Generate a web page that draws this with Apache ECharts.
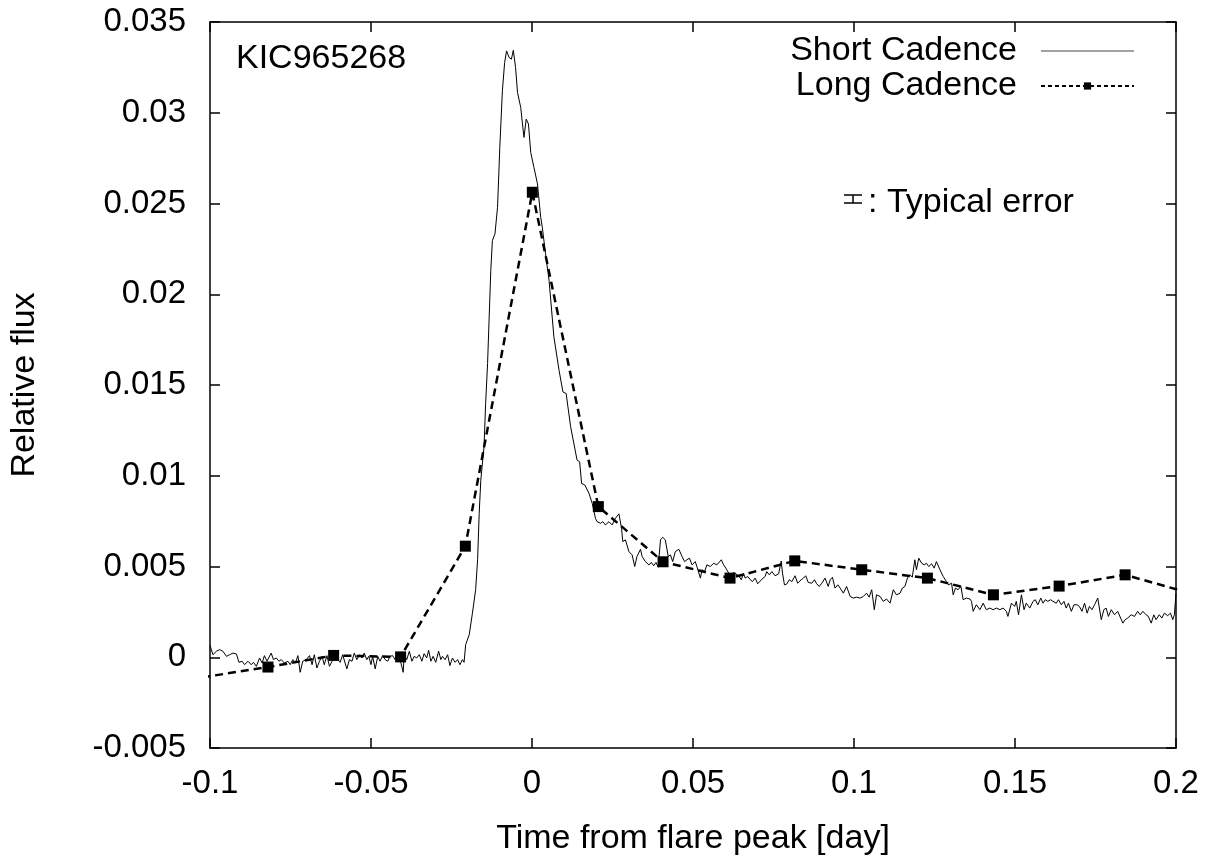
<!DOCTYPE html>
<html><head><meta charset="utf-8">
<script src="https://cdn.jsdelivr.net/npm/echarts@6/dist/echarts.min.js"></script>
<style>html,body{margin:0;padding:0;background:#fff}#c{width:1217px;height:861px}</style>
</head><body><div id="c"></div>
<script>
// Short cadence light curve: [time from flare peak (day), relative flux]
const shortCadence = [
[-0.1000,0.00066],[-0.0991,0.00014],[-0.0980,0.00033],[-0.0970,0.00042],[-0.0960,0.00033],[-0.0949,0.00005],
[-0.0939,0.00014],[-0.0929,0.00023],[-0.0918,0.00018],[-0.0910,-0.00028],[-0.0900,-0.00022],[-0.0893,-0.00041],
[-0.0882,-0.00022],[-0.0872,-0.00041],[-0.0865,-0.00028],[-0.0856,-0.00050],[-0.0846,-0.00004],[-0.0838,-0.00032],
[-0.0831,0.00009],[-0.0823,-0.00022],[-0.0810,0.00023],[-0.0803,-0.00013],[-0.0794,-0.00004],[-0.0786,-0.00022],
[-0.0779,-0.00013],[-0.0769,-0.00032],[-0.0758,-0.00022],[-0.0751,-0.00041],[-0.0743,-0.00013],[-0.0734,-0.00028],
[-0.0727,0.00009],[-0.0720,-0.00083],[-0.0712,-0.00022],[-0.0701,-0.00013],[-0.0691,0.00009],[-0.0683,-0.00041],
[-0.0676,0.00014],[-0.0668,-0.00059],[-0.0660,-0.00022],[-0.0652,0.00005],[-0.0645,-0.00041],[-0.0637,0.00009],
[-0.0629,-0.00050],[-0.0621,-0.00022],[-0.0614,0.00023],[-0.0603,-0.00013],[-0.0596,-0.00028],[-0.0588,0.00014],
[-0.0575,-0.00064],[-0.0567,-0.00013],[-0.0559,-0.00022],[-0.0552,0.00023],[-0.0544,-0.00013],[-0.0536,0.00014],
[-0.0528,-0.00004],[-0.0521,0.00023],[-0.0513,-0.00013],[-0.0507,0.00005],[-0.0500,-0.00041],[-0.0495,0.00005],
[-0.0487,-0.00064],[-0.0479,0.00005],[-0.0472,-0.00022],[-0.0464,0.00009],[-0.0456,-0.00013],[-0.0448,-0.00022],
[-0.0441,0.00005],[-0.0433,0.00009],[-0.0425,-0.00013],[-0.0417,0.00023],[-0.0407,-0.00032],[-0.0400,-0.00083],
[-0.0397,0.00014],[-0.0389,-0.00013],[-0.0381,0.00033],[-0.0373,-0.00022],[-0.0366,0.00005],[-0.0358,-0.00004],
[-0.0350,0.00014],[-0.0342,-0.00022],[-0.0335,0.00020],[-0.0327,-0.00004],[-0.0321,0.00038],[-0.0314,-0.00022],
[-0.0307,0.00005],[-0.0299,-0.00028],[-0.0290,0.00033],[-0.0283,-0.00013],[-0.0278,0.00005],[-0.0270,-0.00013],
[-0.0262,0.00014],[-0.0255,-0.00046],[-0.0247,-0.00004],[-0.0239,-0.00028],[-0.0231,-0.00013],[-0.0224,-0.00041],
[-0.0216,-0.00013],[-0.0211,-0.00028],[-0.0206,0.00069],[-0.0195,0.00124],[-0.0185,0.00243],[-0.0175,0.00372],
[-0.0169,0.00537],[-0.0164,0.00793],[-0.0159,0.00976],[-0.0149,0.01160],[-0.0144,0.01398],[-0.0138,0.01618],
[-0.0133,0.01875],[-0.0128,0.02131],[-0.0123,0.02296],[-0.0115,0.02333],[-0.0107,0.02479],[-0.0100,0.02809],
[-0.0092,0.03121],[-0.0085,0.03277],[-0.0079,0.03341],[-0.0071,0.03304],[-0.0064,0.03295],[-0.0058,0.03344],
[-0.0051,0.03249],[-0.0045,0.03112],[-0.0035,0.03029],[-0.0025,0.02864],[-0.0018,0.02965],[-0.0011,0.02938],
[-0.0004,0.02782],[0.0006,0.02699],[0.0017,0.02608],[0.0027,0.02424],[0.0032,0.02369],[0.0042,0.02223],
[0.0053,0.02076],[0.0068,0.01765],[0.0084,0.01581],[0.0096,0.01462],[0.0106,0.01453],[0.0120,0.01270],
[0.0140,0.01086],[0.0148,0.01077],[0.0154,0.00958],[0.0164,0.00949],[0.0177,0.00903],[0.0187,0.00848],
[0.0197,0.00766],[0.0202,0.00747],[0.0213,0.00738],[0.0220,0.00747],[0.0228,0.00729],[0.0239,0.00747],
[0.0249,0.00729],[0.0259,0.00766],[0.0270,0.00790],[0.0278,0.00711],[0.0282,0.00637],[0.0290,0.00647],
[0.0301,0.00582],[0.0311,0.00564],[0.0319,0.00500],[0.0326,0.00555],[0.0337,0.00595],[0.0342,0.00555],
[0.0352,0.00527],[0.0363,0.00509],[0.0371,0.00522],[0.0378,0.00504],[0.0385,0.00522],[0.0392,0.00496],
[0.0399,0.00647],[0.0406,0.00661],[0.0414,0.00647],[0.0423,0.00555],[0.0430,0.00564],[0.0437,0.00527],
[0.0445,0.00582],[0.0456,0.00595],[0.0466,0.00555],[0.0474,0.00527],[0.0481,0.00537],[0.0489,0.00546],
[0.0497,0.00509],[0.0507,0.00527],[0.0512,0.00500],[0.0523,0.00436],[0.0528,0.00482],[0.0536,0.00472],
[0.0543,0.00509],[0.0554,0.00500],[0.0564,0.00518],[0.0574,0.00509],[0.0588,0.00537],[0.0595,0.00509],
[0.0602,0.00491],[0.0611,0.00463],[0.0619,0.00436],[0.0626,0.00467],[0.0633,0.00460],[0.0642,0.00449],
[0.0650,0.00427],[0.0657,0.00463],[0.0662,0.00436],[0.0670,0.00445],[0.0678,0.00427],[0.0685,0.00417],
[0.0693,0.00436],[0.0701,0.00405],[0.0714,0.00430],[0.0724,0.00445],[0.0729,0.00472],[0.0737,0.00454],
[0.0745,0.00472],[0.0755,0.00449],[0.0766,0.00460],[0.0774,0.00530],[0.0778,0.00463],[0.0784,0.00399],
[0.0791,0.00403],[0.0799,0.00427],[0.0807,0.00417],[0.0817,0.00449],[0.0825,0.00408],[0.0836,0.00427],
[0.0843,0.00436],[0.0850,0.00449],[0.0858,0.00412],[0.0869,0.00408],[0.0877,0.00427],[0.0884,0.00405],
[0.0892,0.00390],[0.0900,0.00408],[0.0910,0.00436],[0.0920,0.00390],[0.0926,0.00427],[0.0933,0.00441],
[0.0941,0.00381],[0.0950,0.00399],[0.0957,0.00381],[0.0967,0.00353],[0.0977,0.00390],[0.0988,0.00335],
[0.0998,0.00326],[0.1008,0.00331],[0.1019,0.00326],[0.1029,0.00335],[0.1039,0.00353],[0.1047,0.00331],
[0.1055,0.00372],[0.1063,0.00262],[0.1070,0.00344],[0.1081,0.00335],[0.1091,0.00308],[0.1101,0.00321],
[0.1112,0.00298],[0.1122,0.00372],[0.1132,0.00344],[0.1143,0.00353],[0.1150,0.00381],[0.1158,0.00390],
[0.1166,0.00436],[0.1174,0.00454],[0.1181,0.00441],[0.1189,0.00537],[0.1194,0.00482],[0.1201,0.00546],
[0.1210,0.00518],[0.1218,0.00509],[0.1225,0.00518],[0.1232,0.00500],[0.1241,0.00515],[0.1249,0.00491],
[0.1256,0.00527],[0.1267,0.00482],[0.1277,0.00445],[0.1287,0.00417],[0.1294,0.00399],[0.1303,0.00408],
[0.1308,0.00344],[0.1315,0.00381],[0.1323,0.00372],[0.1332,0.00390],[0.1339,0.00317],[0.1349,0.00326],
[0.1360,0.00321],[0.1365,0.00308],[0.1370,0.00253],[0.1380,0.00289],[0.1391,0.00262],[0.1401,0.00298],
[0.1411,0.00262],[0.1422,0.00271],[0.1432,0.00262],[0.1442,0.00271],[0.1453,0.00262],[0.1463,0.00271],
[0.1473,0.00253],[0.1478,0.00225],[0.1489,0.00298],[0.1499,0.00280],[0.1504,0.00308],[0.1511,0.00234],
[0.1520,0.00344],[0.1528,0.00262],[0.1535,0.00298],[0.1546,0.00271],[0.1556,0.00308],[0.1563,0.00317],
[0.1571,0.00289],[0.1580,0.00326],[0.1587,0.00298],[0.1594,0.00317],[0.1602,0.00308],[0.1611,0.00317],
[0.1618,0.00308],[0.1628,0.00298],[0.1635,0.00317],[0.1644,0.00289],[0.1652,0.00308],[0.1659,0.00271],
[0.1666,0.00298],[0.1675,0.00253],[0.1683,0.00289],[0.1693,0.00289],[0.1700,0.00280],[0.1708,0.00253],
[0.1716,0.00298],[0.1724,0.00243],[0.1731,0.00280],[0.1739,0.00262],[0.1747,0.00289],[0.1757,0.00326],
[0.1768,0.00207],[0.1776,0.00262],[0.1783,0.00271],[0.1790,0.00225],[0.1799,0.00262],[0.1809,0.00234],
[0.1819,0.00253],[0.1828,0.00216],[0.1835,0.00188],[0.1842,0.00207],[0.1850,0.00216],[0.1861,0.00234],
[0.1871,0.00225],[0.1881,0.00253],[0.1889,0.00234],[0.1897,0.00253],[0.1907,0.00234],[0.1914,0.00225],
[0.1923,0.00188],[0.1931,0.00234],[0.1938,0.00207],[0.1948,0.00234],[0.1956,0.00216],[0.1964,0.00243],
[0.1974,0.00229],[0.1983,0.00243],[0.1990,0.00207],[0.1995,0.00234],[0.2000,0.00353]
];
// Long cadence points
const longCadenceTime = [-0.1024,-0.0820,-0.0616,-0.0408,-0.0207,0.0001,0.0206,0.0407,0.0615,0.0816,0.1024,0.1228,0.1433,0.1637,0.1842,0.2046];
const longCadenceFlux = [-0.00111,-0.00054,0.00010,0.00002,0.00612,0.02562,0.00830,0.00526,0.00436,0.00531,0.00482,0.00436,0.00344,0.00392,0.00454,0.00352];
const xTickLabels = ['-0.1','-0.05','0','0.05','0.1','0.15','0.2'];
const yTickLabels = ['-0.005','0','0.005','0.01','0.015','0.02','0.025','0.03','0.035'];
const starName = 'KIC965268';

const FONT = '"Liberation Sans", Arial, Helvetica, sans-serif';
const FS = 33;
const FS2 = 34;
const chart = echarts.init(document.getElementById('c'), null, {renderer: 'canvas'});
const xLab = v => xTickLabels[Math.round((v + 0.1) / 0.05)];
const yLab = v => yTickLabels[Math.round((v + 0.005) / 0.005)];
const axisLine = {onZero: false, lineStyle: {color: '#000', width: 1.5}};
const tickStyle = {inside: true, length: 10, lineStyle: {color: '#000', width: 1.5}};
const txt = {fontFamily: FONT, fontSize: FS, color: '#000'};
const txt2 = {fontFamily: FONT, fontSize: FS2, color: '#000'};

chart.setOption({
  animation: false,
  backgroundColor: '#fff',
  grid: {left: 206, right: 41, top: 22, bottom: 112},
  xAxis: [
    {type: 'value', min: -0.1, max: 0.2, interval: 0.05, position: 'bottom',
     axisLine: axisLine, axisTick: tickStyle, splitLine: {show: false},
     axisLabel: Object.assign({formatter: xLab, margin: 19}, txt),
     name: 'Time from flare peak [day]', nameLocation: 'middle', nameGap: 74, nameTextStyle: txt2},
    {type: 'value', min: -0.1, max: 0.2, interval: 0.05, position: 'top',
     axisLine: axisLine, axisTick: tickStyle, splitLine: {show: false},
     axisLabel: {show: false}}
  ],
  yAxis: [
    {type: 'value', min: -0.005, max: 0.035, interval: 0.005, position: 'left',
     axisLine: axisLine, axisTick: tickStyle, splitLine: {show: false},
     axisLabel: Object.assign({formatter: yLab, margin: 24}, txt),
     name: 'Relative flux', nameLocation: 'middle', nameGap: 168, nameTextStyle: txt2},
    {type: 'value', min: -0.005, max: 0.035, interval: 0.005, position: 'right',
     axisLine: axisLine, axisTick: tickStyle, splitLine: {show: false},
     axisLabel: {show: false}}
  ],
  legend: {
    orient: 'vertical', right: 82, top: 34, align: 'right', padding: 0,
    itemWidth: 93, itemHeight: 9, itemGap: 1, selectedMode: false,
    textStyle: {fontFamily: FONT, fontSize: FS2, color: '#000', lineHeight: 34, padding: [0, 19, 0, 0]},
    data: [
      {name: 'Short Cadence', lineStyle: {width: 1, color: '#444'}, itemStyle: {color: 'rgba(0,0,0,0)', opacity: 0}},
      {name: 'Long Cadence', lineStyle: {width: 2, type: [4, 3]}}
    ]
  },
  series: [
    {name: 'Short Cadence', type: 'line', xAxisIndex: 0, yAxisIndex: 0,
     data: shortCadence, symbol: 'none', clip: true,
     lineStyle: {color: '#000', width: 1}, itemStyle: {color: '#000'}},
    {name: 'Long Cadence', type: 'line', xAxisIndex: 0, yAxisIndex: 0,
     data: longCadenceTime.map((t, i) => [t, longCadenceFlux[i]]),
     symbol: 'rect', symbolSize: 11, showSymbol: true, clip: true,
     lineStyle: {color: '#000', width: 2.5, type: [8, 5]}, itemStyle: {color: '#000'}}
  ],
  graphic: [
    {type: 'text', x: 236, y: 59, style: {text: starName, fontFamily: FONT, fontSize: FS2, fill: '#000', verticalAlign: 'middle', align: 'left'}},
    {type: 'line', shape: {x1: 844, y1: 195, x2: 862, y2: 195}, style: {stroke: '#000', lineWidth: 1.5}},
    {type: 'line', shape: {x1: 844, y1: 203, x2: 862, y2: 203}, style: {stroke: '#000', lineWidth: 1.5}},
    {type: 'line', shape: {x1: 853, y1: 195, x2: 853, y2: 203}, style: {stroke: '#000', lineWidth: 1.5}},
    {type: 'text', x: 868, y: 203, style: {text: ': Typical error', fontFamily: FONT, fontSize: FS2, fill: '#000', verticalAlign: 'middle', align: 'left'}}
  ]
});
</script></body></html>
